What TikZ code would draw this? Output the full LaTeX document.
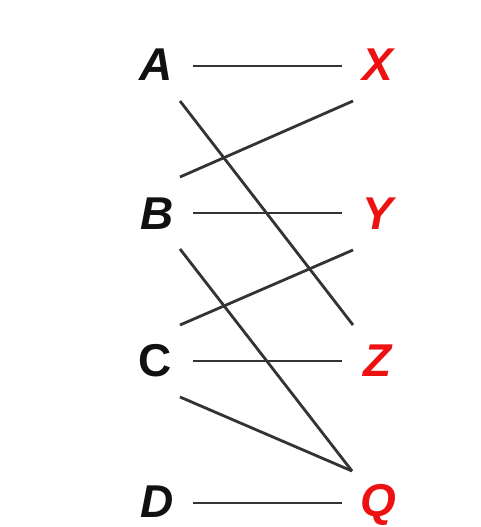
\documentclass[tikz,border=0pt]{standalone}
\usepackage{fontspec}
\setmainfont{Liberation Sans}
\definecolor{lbl}{HTML}{111111}
\definecolor{redlbl}{HTML}{EE1111}
\definecolor{ln}{HTML}{333333}
\begin{document}
\begin{tikzpicture}[x=1pt,y=-1pt,
  lab/.style={inner sep=0pt,text height=33pt,text depth=0pt,anchor=center,
    font=\fontsize{46}{46}\selectfont\bfseries\itshape,text=lbl},
  rlab/.style={lab,text=redlbl},
  conn/.style={draw=ln,line width=2.8pt}]
\path[use as bounding box,fill=white] (0,0) rectangle (480,527);
% left labels
\node[lab] (A) at (156,64) {A};
\node[lab] (B) at (157,213) {B};
\node[lab,font=\fontsize{46}{46}\selectfont\bfseries] (C) at (155,360) {C};
\node[lab] (D) at (157,501) {D};
% right labels
\node[rlab] (X) at (378,64) {X};
\node[rlab] (Y) at (378,213) {Y};
\node[rlab] (Z) at (378,360) {Z};
\node[rlab] (Q) at (378,500) {Q};
% connector ends
\coordinate (Ah) at (193,66);   \coordinate (Xh) at (342,66);
\coordinate (Bh) at (193,213);  \coordinate (Yh) at (342,213);
\coordinate (Ch) at (193,361);  \coordinate (Zh) at (342,361);
\coordinate (Dh) at (193,503);  \coordinate (Qh) at (342,503);
\coordinate (Ad) at (180,101);  \coordinate (Zd) at (353,325);
\coordinate (Bu) at (180,177);  \coordinate (Xd) at (353,101);
\coordinate (Bd) at (180,249);  \coordinate (Qu) at (352,471);
\coordinate (Cu) at (180,325);  \coordinate (Yd) at (353,250);
\coordinate (Cd) at (180,397);
% connectors
\draw[conn] (Ah) -- (Xh);
\draw[conn] (Bh) -- (Yh);
\draw[conn] (Ch) -- (Zh);
\draw[conn] (Dh) -- (Qh);
\draw[conn] (Ad) -- (Zd);
\draw[conn] (Bu) -- (Xd);
\draw[conn] (Bd) -- (Qu);
\draw[conn] (Cu) -- (Yd);
\draw[conn] (Cd) -- (Qu);
\end{tikzpicture}
\end{document}
